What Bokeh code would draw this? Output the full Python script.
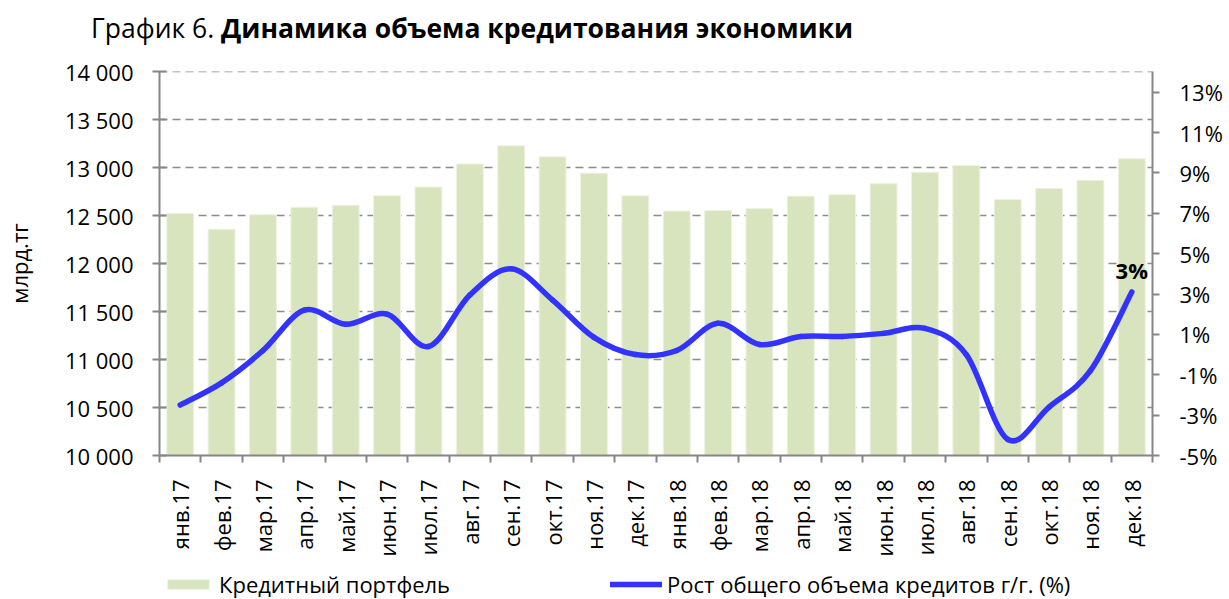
import numpy as np
from bokeh.plotting import figure
from bokeh.models import (Range1d, LinearAxis, FixedTicker, Legend, LegendItem, Div,
                          ColumnDataSource)
from bokeh.layouts import column
from bokeh.embed import file_html
from bokeh.resources import INLINE
from bokeh.core.properties import value

# ---------------- data ----------------
months = ["янв.17", "фев.17", "мар.17", "апр.17", "май.17", "июн.17", "июл.17", "авг.17",
          "сен.17", "окт.17", "ноя.17", "дек.17", "янв.18", "фев.18", "мар.18", "апр.18",
          "май.18", "июн.18", "июл.18", "авг.18", "сен.18", "окт.18", "ноя.18", "дек.18"]
portfolio = [12525, 12360, 12510, 12590, 12610, 12710, 12800, 13040, 13230, 13115, 12945, 12710,
             12550, 12555, 12575, 12705, 12720, 12835, 12955, 13025, 12670, 12785, 12870, 13095]
growth = [-2.5, -1.4, 0.2, 2.2, 1.5, 2.0, 0.4, 2.95, 4.25, 2.7, 0.85, 0.0,
          0.2, 1.55, 0.5, 0.9, 0.9, 1.05, 1.3, 0.0, -4.2, -2.6, -0.8, 3.1]
left_ticks = [10000, 10500, 11000, 11500, 12000, 12500, 13000, 13500, 14000]
right_ticks = [-5, -3, -1, 1, 3, 5, 7, 9, 11, 13]
series_names = ["Кредитный портфель", "Рост общего объема кредитов г/г. (%)"]

FONT = "Open Sans"
FS = "22px"
BAR_COLOR = "#d7e4bd"
BAR_EDGE = "#eef3e2"
LINE_COLOR = "#3333ff"
AX_COLOR = "#868686"

n = len(months)
xs = np.arange(n) + 0.5

# ---------------- title ----------------
title = Div(text=('<div style="font-family:\'Open Sans\'; font-size:26.5px; line-height:1.2; color:#000; '
                  'padding-left:91px; padding-top:13px; white-space:nowrap;">'
                  'График 6. <b>Динамика объема кредитования экономики</b></div>'),
            width=1225, height=52, margin=(0, 0, 0, 0))

# ---------------- main figure ----------------
y_lo, y_hi = 10000, 14000
pad = 5  # tiny headroom so the top grid line is drawn
p_lo, p_hi = -5, 14
p = figure(width=1225, height=507, output_backend="svg", toolbar_location=None,
           x_range=Range1d(0, n), y_range=Range1d(y_lo, y_hi + pad),
           min_border_left=158, min_border_right=70, min_border_top=19, min_border_bottom=100,
           margin=(0, 0, 0, 0))
p.outline_line_color = None
p.extra_y_ranges = {"pct": Range1d(p_lo, p_hi + (p_hi - p_lo) * pad / (y_hi - y_lo))}

src = ColumnDataSource(dict(x=xs, v=portfolio, m=months))
p.vbar(x="x", top="v", bottom=0, width=0.65, source=src,
       fill_color=BAR_COLOR, line_color=BAR_EDGE, line_width=1)

# smoothed growth line (Catmull-Rom style bezier through the data points)
P = np.column_stack([xs, np.array(growth, dtype=float)])
Pprev = np.vstack([P[:1], P[:-1]])
Pnext2 = np.vstack([P[2:], P[-1:], P[-1:]])
c0 = P[:-1] + (P[1:] - Pprev[:-1]) / 6.0
c1 = P[1:] - (Pnext2[:-1] - P[:-1]) / 6.0
bz = ColumnDataSource(dict(x0=P[:-1, 0], y0=P[:-1, 1], x1=P[1:, 0], y1=P[1:, 1],
                           cx0=c0[:, 0], cy0=c0[:, 1], cx1=c1[:, 0], cy1=c1[:, 1]))
p.bezier(x0="x0", y0="y0", x1="x1", y1="y1", cx0="cx0", cy0="cy0", cx1="cx1", cy1="cy1",
         source=bz, y_range_name="pct", line_color=LINE_COLOR, line_width=5.5, line_cap="round")

p.text(x=[xs[-1]], y=[growth[-1]], text=[f"{round(growth[-1])}%"], y_range_name="pct",
       text_font=value(FONT), text_font_size=FS, text_font_style="bold",
       text_align="center", text_baseline="alphabetic", y_offset=-22, text_color="#000000")

# ---------------- axes ----------------
p.xgrid.visible = False
p.ygrid.ticker = FixedTicker(ticks=left_ticks)
p.ygrid.grid_line_color = "#8c8c8c"
p.ygrid.grid_line_width = 1.5
p.ygrid.grid_line_dash = "8 5"

xa = p.xaxis[0]
xa.ticker = FixedTicker(ticks=list(xs), minor_ticks=list(np.arange(n + 1)))
xa.major_label_overrides = {float(x): m for x, m in zip(xs, months)}
xa.major_label_orientation = np.pi / 2
xa.major_tick_out = 0
xa.major_tick_in = 0
xa.minor_tick_out = 7
xa.minor_tick_in = 0
xa.minor_tick_line_color = AX_COLOR
xa.minor_tick_line_width = 2
xa.axis_line_color = AX_COLOR
xa.axis_line_width = 2
xa.major_label_standoff = 17
xa.major_label_text_font = FONT
xa.major_label_text_font_size = FS
xa.major_label_text_color = "#000000"

ya = p.yaxis[0]
ya.ticker = FixedTicker(ticks=left_ticks)
ya.major_label_overrides = {t: f"{t:,}".replace(",", " ") for t in left_ticks}
ya.minor_tick_line_color = None
ya.major_tick_out = 7
ya.major_tick_in = 7
ya.major_tick_line_color = AX_COLOR
ya.major_tick_line_width = 2
ya.axis_line_color = AX_COLOR
ya.axis_line_width = 2
ya.major_label_standoff = 19
ya.major_label_text_font = FONT
ya.major_label_text_font_size = FS
ya.major_label_text_color = "#000000"
ya.axis_label = "млрд.тг"
ya.axis_label_text_font = FONT
ya.axis_label_text_font_size = FS
ya.axis_label_text_font_style = "normal"
ya.axis_label_text_color = "#000000"
ya.axis_label_standoff = 28

ra = LinearAxis(y_range_name="pct", ticker=FixedTicker(ticks=right_ticks))
ra.major_label_overrides = {t: f"{t}%" for t in right_ticks}
ra.minor_tick_line_color = None
ra.major_tick_out = 7
ra.major_tick_in = 0
ra.major_tick_line_color = AX_COLOR
ra.major_tick_line_width = 2
ra.axis_line_color = AX_COLOR
ra.axis_line_width = 2
ra.major_label_standoff = 20
ra.major_label_text_font = FONT
ra.major_label_text_font_size = FS
ra.major_label_text_color = "#000000"
p.add_layout(ra, "right")

# ---------------- legend strip ----------------
lf = figure(width=1225, height=40, output_backend="svg", toolbar_location=None,
            x_range=Range1d(0, 1), y_range=Range1d(0, 1),
            x_axis_location=None, y_axis_location=None,
            min_border_left=0, min_border_right=0, min_border_top=0, min_border_bottom=0,
            margin=(0, 0, 0, 0))
lf.outline_line_color = None
lf.xgrid.visible = False
lf.ygrid.visible = False
# swatch renderers: kept outside the visible range, only their legend glyphs show
leg_bar = lf.vbar(x=[5], top=[5], bottom=[4], width=0.65, fill_color=BAR_COLOR, line_color=BAR_EDGE)
leg_line = lf.line(x=[5, 6], y=[5, 5], line_color=LINE_COLOR, line_width=5.5, line_cap="round")
legend = Legend(items=[LegendItem(label=series_names[0], renderers=[leg_bar]),
                       LegendItem(label=series_names[1], renderers=[leg_line])],
                location=(3, 0), orientation="horizontal", glyph_width=52, glyph_height=12,
                label_standoff=5, padding=0, spacing=160, margin=0, border_line_color=None,
                background_fill_alpha=0, label_text_font=FONT, label_text_font_size=FS,
                label_text_color="#000000")
lf.add_layout(legend, "center")

layout = column(title, p, lf, margin=(0, 0, 0, 0), spacing=0)
open("out.html", "w").write(file_html(layout, INLINE))
